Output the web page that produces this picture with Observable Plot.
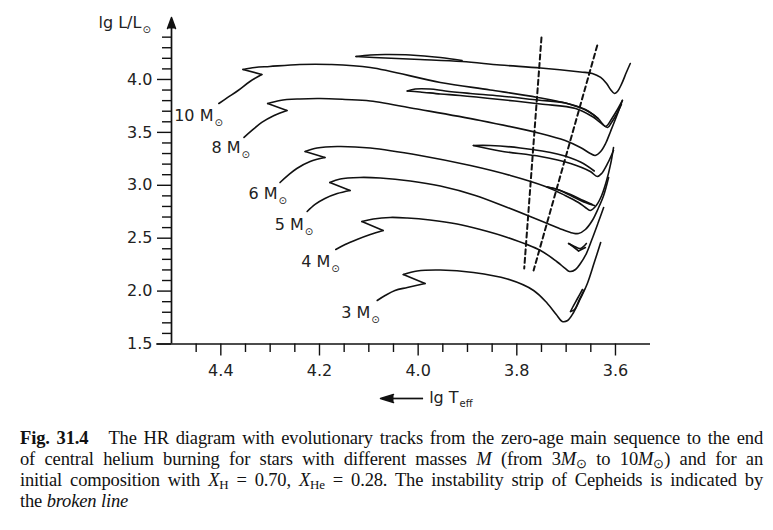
<!DOCTYPE html>
<html><head><meta charset="utf-8">
<script src="https://cdn.jsdelivr.net/npm/d3@7"></script>
<script src="https://cdn.jsdelivr.net/npm/@observablehq/plot@0.6"></script>
<style>
body{margin:0;background:#fff;}
#chart svg{display:block}
.cap{font-family:"Liberation Serif","Times New Roman",serif;font-size:18.5px;letter-spacing:-0.15px;line-height:21px;width:743px;margin:3px 0 0 20px;color:#111}
.cap div{white-space:nowrap}
.cap .j{text-align:justify;text-align-last:justify}
.cap sub{font-size:0.7em;line-height:0;vertical-align:-0.25em}
</style></head><body>
<div id="chart"></div>
<div class="cap">
<div class="j"><b>Fig. 31.4</b>&nbsp;&nbsp; The HR diagram with evolutionary tracks from the zero-age main sequence to the end</div>
<div class="j">of central helium burning for stars with different masses <i>M</i> (from 3<i>M</i><sub>⊙</sub> to 10<i>M</i><sub>⊙</sub>) and for an</div>
<div class="j">initial composition with <i>X</i><sub>H</sub> = 0.70, <i>X</i><sub>He</sub> = 0.28. The instability strip of Cepheids is indicated by</div>
<div>the <i>broken line</i></div>
</div>
<script>
// ---- evolutionary tracks: [lg Teff, lg L/Lsun, cornerFlag]
const m10a = [[4.404,3.773],[4.386,3.830],[4.365,3.896],[4.341,3.981],[4.317,4.047,1],[4.355,4.095,1],[4.331,4.113],[4.301,4.123],[4.240,4.142],[4.179,4.142],[4.097,4.113],[3.955,3.972],[3.854,3.901],[3.758,3.830],[3.691,3.764],[3.655,3.698],[3.635,3.631],[3.620,3.556],[3.606,3.641],[3.596,3.716],[3.586,3.802]];
const m10b = [[3.570,4.151],[3.578,4.066],[3.588,3.953],[3.596,3.887],[3.602,3.868],[3.610,3.905],[3.618,3.962],[3.630,4.019],[3.647,4.057],[3.671,4.071],[3.752,4.109],[3.834,4.137],[3.911,4.170],[3.996,4.189],[4.067,4.203],[4.126,4.217,1],[4.097,4.232],[4.067,4.236],[4.016,4.232],[3.955,4.208],[3.911,4.180]];
const m8a = [[4.353,3.452],[4.337,3.518],[4.317,3.594],[4.292,3.660],[4.266,3.707,1],[4.305,3.773,1],[4.280,3.802],[4.240,3.816],[4.199,3.820],[4.148,3.811],[4.097,3.797],[3.996,3.716],[3.874,3.612],[3.752,3.490],[3.702,3.423],[3.671,3.357],[3.651,3.301],[3.641,3.282],[3.630,3.319],[3.620,3.395],[3.610,3.509],[3.598,3.650],[3.586,3.802]];
const m8b = [[3.588,3.764],[3.598,3.669],[3.608,3.594],[3.616,3.546],[3.628,3.584],[3.647,3.650],[3.681,3.726],[3.752,3.768],[3.834,3.811],[3.915,3.849],[3.955,3.863],[3.996,3.882],[4.022,3.891,1],[4.006,3.910],[3.976,3.910],[3.945,3.891],[3.894,3.868],[3.834,3.844],[3.758,3.806],[3.702,3.778],[3.661,3.716],[3.635,3.631]];
const m6a = [[4.280,3.026],[4.264,3.093],[4.246,3.159],[4.219,3.225],[4.189,3.263,1],[4.229,3.319,1],[4.205,3.353],[4.164,3.367],[4.097,3.353],[3.996,3.282],[3.894,3.187],[3.813,3.093],[3.742,2.989],[3.702,2.904],[3.675,2.837],[3.661,2.790],[3.651,2.762],[3.639,2.809],[3.628,2.904],[3.618,3.045],[3.610,3.197],[3.604,3.357]];
const m6b = [[3.604,3.329],[3.616,3.206],[3.628,3.112],[3.637,3.083],[3.651,3.130],[3.691,3.206],[3.752,3.272],[3.834,3.324],[3.888,3.376,1],[3.854,3.376],[3.793,3.353],[3.718,3.296],[3.671,3.220],[3.643,3.135]];
const m5a = [[4.225,2.752],[4.209,2.819],[4.189,2.875],[4.164,2.922],[4.138,2.951,1],[4.179,3.026,1],[4.158,3.060],[4.118,3.074],[4.077,3.069],[4.016,3.041],[3.955,2.993],[3.884,2.904],[3.819,2.790],[3.773,2.705],[3.738,2.639],[3.708,2.582],[3.687,2.549],[3.675,2.544],[3.661,2.582],[3.647,2.667],[3.635,2.781],[3.624,2.904],[3.614,3.074]];
const m5b = [[3.643,2.809],[3.661,2.837],[3.687,2.894],[3.712,2.951],[3.734,2.979],[3.738,2.984,1],[3.720,2.965],[3.691,2.913],[3.665,2.856],[3.647,2.819]];
const m4a = [[4.167,2.393],[4.148,2.440],[4.124,2.488],[4.097,2.535],[4.071,2.573,1],[4.114,2.658,1],[4.091,2.681],[4.057,2.696],[4.022,2.691],[3.976,2.672],[3.921,2.634],[3.874,2.582],[3.819,2.507],[3.752,2.384],[3.718,2.275],[3.702,2.214],[3.693,2.185],[3.681,2.204],[3.671,2.261],[3.659,2.355],[3.647,2.497],[3.635,2.648],[3.624,2.790]];
const m4b = [[3.661,2.412],[3.675,2.379,1],[3.689,2.431],[3.695,2.450,1],[3.683,2.422],[3.671,2.403],[3.659,2.450]];
const m3a = [[4.083,1.911],[4.067,1.958],[4.047,2.006],[4.022,2.034],[3.986,2.072,1],[4.030,2.157,1],[4.002,2.190],[3.955,2.199],[3.888,2.176],[3.819,2.114],[3.766,2.006],[3.738,1.883],[3.720,1.779],[3.708,1.713],[3.697,1.722],[3.685,1.798],[3.671,1.930],[3.657,2.072],[3.643,2.270],[3.630,2.459]];
const m3b = [[3.667,2.015],[3.677,1.930],[3.687,1.845],[3.691,1.807,1],[3.683,1.826],[3.673,1.921],[3.663,2.015]];

// ---- Cepheid instability strip (broken lines)
const cephBlue = [[3.750,4.397],[3.785,2.214]];
const cephRed = [[3.637,4.321],[3.766,2.195]];

// ---- mass labels
const massNames = ["10 M","8 M","6 M","5 M","4 M","3 M"];
const massT = [4.415,4.360,4.285,4.232,4.178,4.097];
const massL = [3.612,3.301,2.866,2.573,2.223,1.741];

// ---- axes
const xMajor = [4.4,4.2,4.0,3.8,3.6];
const xMinor = [4.45,4.35,4.3,4.25,4.15,4.1,4.05,3.95,3.9,3.85,3.75,3.7,3.65];
const yMajor = [1.5,2.0,2.5,3.0,3.5,4.0];
const yMinor = [1.6,1.7,1.8,1.9,2.1,2.2,2.3,2.4,2.6,2.7,2.8,2.9,3.1,3.2,3.3,3.4,3.6,3.7,3.8,3.9,4.1,4.2,4.3,4.4];
const yAxisSpan = [1.5,4.5];     // along lg L at lg Teff = 4.5
const xAxisSpan = [4.53,3.529];  // along lg Teff at lg L = 1.5
const yTitle = {text:"lg L/L", T:4.561, L:4.491};
const xTitle = {text:"lg T", sub:"eff", T:3.918, L:0.938};
const xArrow = {T1:3.989, T2:4.050, L:0.985};
const yArrowBase = 4.482;

function rows(name, pts){
  const out=[]; let id=0;
  pts.forEach((p,i)=>{
    out.push({T:p[0],L:p[1],seg:name+"-"+id});
    if(p[2] && i>0 && i<pts.length-1){ id++; out.push({T:p[0],L:p[1],seg:name+"-"+id}); }
  });
  return out;
}
const tracks = [["m10a",m10a],["m10b",m10b],["m8a",m8a],["m8b",m8b],["m6a",m6a],["m6b",m6b],["m5a",m5a],["m5b",m5b],["m4a",m4a],["m4b",m4b],["m3a",m3a],["m3b",m3b]]
  .flatMap(([n,p])=>rows(n,p));
const ceph = [...rows("blue",cephBlue),...rows("red",cephRed)];
const labels = massNames.map((name,i)=>({name,T:massT[i],L:massL[i]}));

const ink = "#111";
const chart = Plot.plot({
  width:773, height:425,
  marginLeft:171, marginRight:123, marginTop:23, marginBottom:81.5,
  style:{fontFamily:"DejaVu Sans, sans-serif", color:"#222", background:"#fff"},
  x:{domain:[4.5,3.529], label:null},
  y:{domain:[1.5,4.529], label:null},
  marks:[
    Plot.axisX(xMinor,{anchor:"bottom", tickSize:8.5, tickFormat:()=>"", label:null, strokeWidth:1.4, stroke:ink}),
    Plot.axisX(xMajor,{anchor:"bottom", tickSize:12, tickPadding:9, tickFormat:d3.format(".1f"), fontSize:16, label:null, strokeWidth:1.4, stroke:ink}),
    Plot.axisY(yMinor,{anchor:"left", tickSize:9, tickFormat:()=>"", label:null, strokeWidth:1.4, stroke:ink}),
    Plot.axisY(yMajor,{anchor:"left", tickSize:14, tickPadding:5, tickFormat:d3.format(".1f"), fontSize:16, label:null, strokeWidth:1.4, stroke:ink}),
    Plot.ruleX([4.5],{y1:yAxisSpan[0], y2:yAxisSpan[1], stroke:ink, strokeWidth:1.7}),
    Plot.ruleY([1.5],{x1:xAxisSpan[0], x2:xAxisSpan[1], stroke:ink, strokeWidth:1.7}),
    Plot.vector([{T:4.5,L:yArrowBase}],{x:"T", y:"L", shape:"spike", anchor:"start", length:11, r:4, rotate:0, stroke:ink, fill:ink}),
    Plot.line(ceph,{x:"T", y:"L", z:"seg", stroke:ink, strokeWidth:2, strokeDasharray:"5,3.5"}),
    Plot.line(tracks,{x:"T", y:"L", z:"seg", curve:"catmull-rom", stroke:ink, strokeWidth:1.6, strokeLinejoin:"round"}),
    Plot.text(labels,{x:"T", y:"L", text:"name", textAnchor:"end", lineAnchor:"bottom", fontSize:16, fill:"#222"}),
    Plot.text(labels,{x:"T", y:"L", text:()=>"⊙", textAnchor:"start", lineAnchor:"bottom", dx:1, dy:5, fontSize:10, fill:"#222"}),
    Plot.text([yTitle],{x:"T", y:"L", text:"text", textAnchor:"end", lineAnchor:"bottom", fontSize:16, fill:"#222"}),
    Plot.text([yTitle],{x:"T", y:"L", text:()=>"⊙", textAnchor:"start", lineAnchor:"bottom", dx:1, dy:5, fontSize:10, fill:"#222"}),
    Plot.text([xTitle],{x:"T", y:"L", text:"text", textAnchor:"end", lineAnchor:"bottom", fontSize:16, fill:"#222"}),
    Plot.text([xTitle],{x:"T", y:"L", text:"sub", textAnchor:"start", lineAnchor:"bottom", dx:1, dy:4, fontSize:10, fill:"#222"}),
    Plot.ruleY([xArrow],{y:"L", x1:"T1", x2:"T2", stroke:ink, strokeWidth:1.7}),
    Plot.vector([xArrow],{x:"T2", y:"L", shape:"spike", anchor:"start", length:13, r:4, rotate:-90, stroke:ink, fill:ink})
  ]
});
document.getElementById("chart").appendChild(chart);
</script></body></html>
